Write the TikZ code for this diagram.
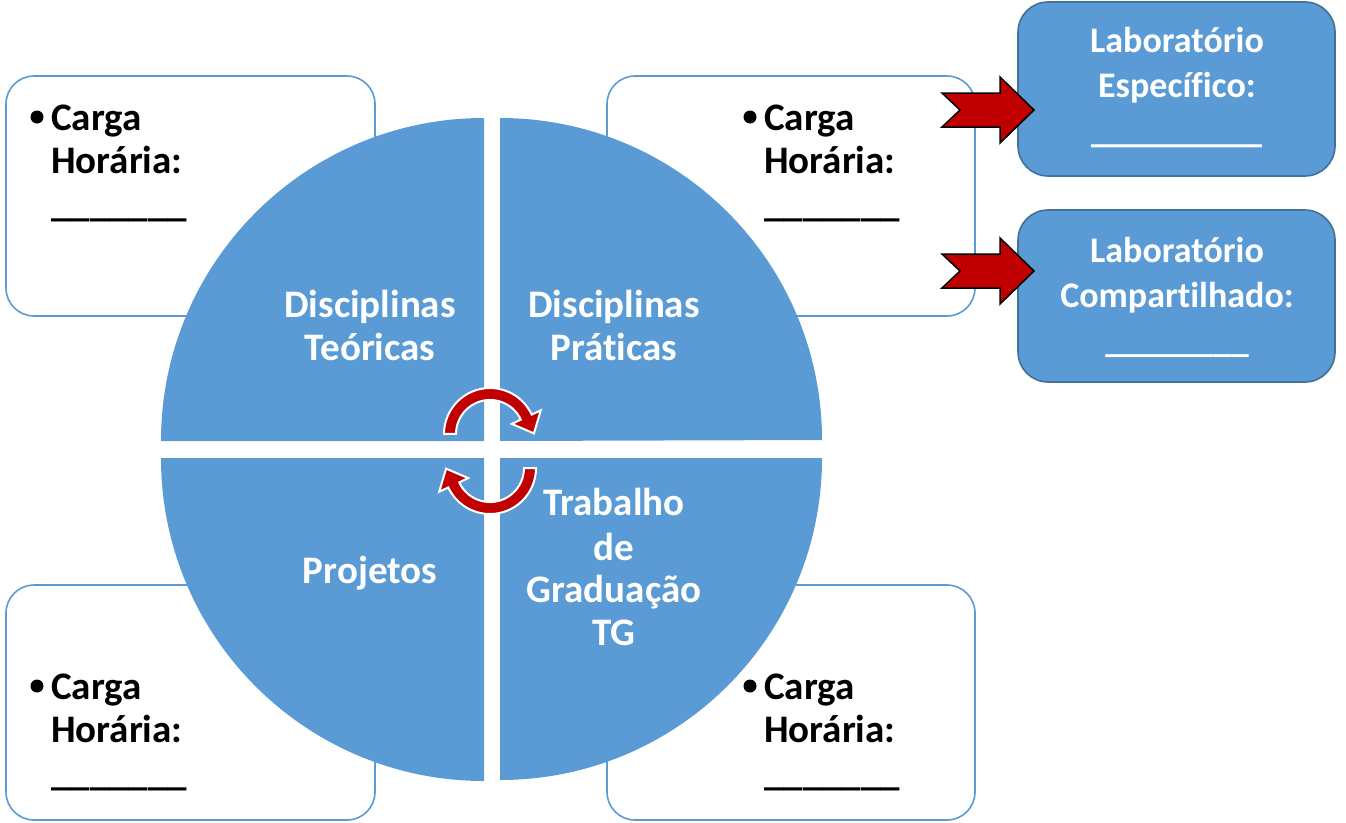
\documentclass[tikz,border=0pt]{standalone}
\usepackage{fontspec}
\setmainfont{Carlito}[Ligatures=NoCommon]
\definecolor{qblue}{HTML}{5B9BD5}
\definecolor{qedge}{HTML}{41719C}
\definecolor{qred}{HTML}{C00000}
\begin{document}
\begin{tikzpicture}[x=1pt,y=-1pt,
  hbox/.style={draw=qblue, line width=1.6pt, fill=white, rounded corners=28pt},
  labbox/.style={draw=qedge, line width=1.6pt, fill=qblue, rounded corners=30pt},
  quad/.style={fill=qblue},
  btxt/.style={font=\fontsize{39}{44}\selectfont\bfseries, text=black, anchor=base west, inner sep=0pt},
  wtxt/.style={font=\fontsize{39}{44}\selectfont\bfseries, text=white, anchor=base, inner sep=0pt},
  ltxt/.style={font=\fontsize{36}{44}\selectfont\bfseries, text=white, anchor=base, inner sep=0pt},
  bulletdot/.style={circle, fill=black, inner sep=0pt, minimum size=13pt},
  blockarrow/.style={fill=qred, draw=black, line width=1.5pt, line join=miter},
  turn/.style={fill=qred, draw=white, line width=2pt},
]
\useasboundingbox (0,0) rectangle (1346,822);
% white boxes
\draw[hbox] (6,76) rectangle (375,316);
\draw[hbox] (607,76) rectangle (975,316);
\draw[hbox] (6,585) rectangle (375,820);
\draw[hbox] (607,585) rectangle (975,820);
% quadrants
\fill[quad] (484,441) -- (161,441) arc[start angle=180,end angle=270,radius=323] -- cycle;
\fill[quad] (500,441) -- (500,118) arc[start angle=270,end angle=360,radius=322] -- cycle;
\fill[quad] (484,458) -- (161,458) arc[start angle=180,end angle=90,radius=323] -- cycle;
\fill[quad] (500,458) -- (822,458) arc[start angle=0,end angle=90,radius=322] -- cycle;
% quadrant labels
\node[wtxt] (dt1) at (370,317) {Disciplinas};
\node[wtxt] (dt2) at (370,360) {Teóricas};
\node[wtxt] (dp1) at (614,317) {Disciplinas};
\node[wtxt] (dp2) at (614,360) {Práticas};
\node[wtxt] (pj) at (370,583) {Projetos};
\node[wtxt] (tg1) at (614,515) {Trabalho};
\node[wtxt] (tg2) at (614,560) {de};
\node[wtxt] (tg3) at (614,602) {Graduação};
\node[wtxt] (tg4) at (614,645) {TG};
% cycle arrows
\path[turn] (444,434) arc[start angle=180,end angle=335,radius=46] -- (540.8,410.3) -- (533.9,433.4) -- (511.8,423.9) -- (520.8,419.6) arc[start angle=335,end angle=180,radius=34] -- cycle;
\path[turn, rotate around={180:(490,451)}] (444,434) arc[start angle=180,end angle=335,radius=46] -- (540.8,410.3) -- (533.9,433.4) -- (511.8,423.9) -- (520.8,419.6) arc[start angle=335,end angle=180,radius=34] -- cycle;
% lab boxes
\draw[labbox] (1018,2) rectangle (1335,176);
\draw[labbox] (1018,210) rectangle (1335,382);
\node[ltxt] (le1) at (1177,52) {Laboratório};
\node[ltxt] (le2) at (1177,97) {Específico:};
\node[ltxt, font=\fontsize{38}{44}\selectfont\bfseries] (le3) at (1177,142) {\_\_\_\_\_\_\_\_\_};
\node[ltxt] (lc1) at (1177,262) {Laboratório};
\node[ltxt] (lc2) at (1177,307) {Compartilhado:};
\node[ltxt] (lc3) at (1177,352) {\_\_\_\_\_\_\_\_};
% block arrows
\path[blockarrow] (942,93) -- (1000,93) -- (1000,77) -- (1034,110) -- (1000,143) -- (1000,127) -- (942,127) -- (960,110) -- cycle;
\path[blockarrow] (942,254) -- (1000,254) -- (1000,238) -- (1034,271) -- (1000,304) -- (1000,288) -- (942,288) -- (960,271) -- cycle;
% carga horaria texts
\node[bulletdot] (b1) at (37,117) {};
\node[btxt] (c1a) at (51,130) {Carga};
\node[btxt] (c1b) at (51,173) {Horária:};
\node[btxt] (c1c) at (51,216) {\_\_\_\_\_\_\_};
\node[bulletdot] (b2) at (750,117) {};
\node[btxt] (c2a) at (764,130) {Carga};
\node[btxt] (c2b) at (764,173) {Horária:};
\node[btxt] (c2c) at (764,216) {\_\_\_\_\_\_\_};
\node[bulletdot] (b3) at (37,686) {};
\node[btxt] (c3a) at (51,699) {Carga};
\node[btxt] (c3b) at (51,742) {Horária:};
\node[btxt] (c3c) at (51,785) {\_\_\_\_\_\_\_};
\node[bulletdot] (b4) at (750,686) {};
\node[btxt] (c4a) at (764,699) {Carga};
\node[btxt] (c4b) at (764,742) {Horária:};
\node[btxt] (c4c) at (764,785) {\_\_\_\_\_\_\_};
\end{tikzpicture}
\end{document}
